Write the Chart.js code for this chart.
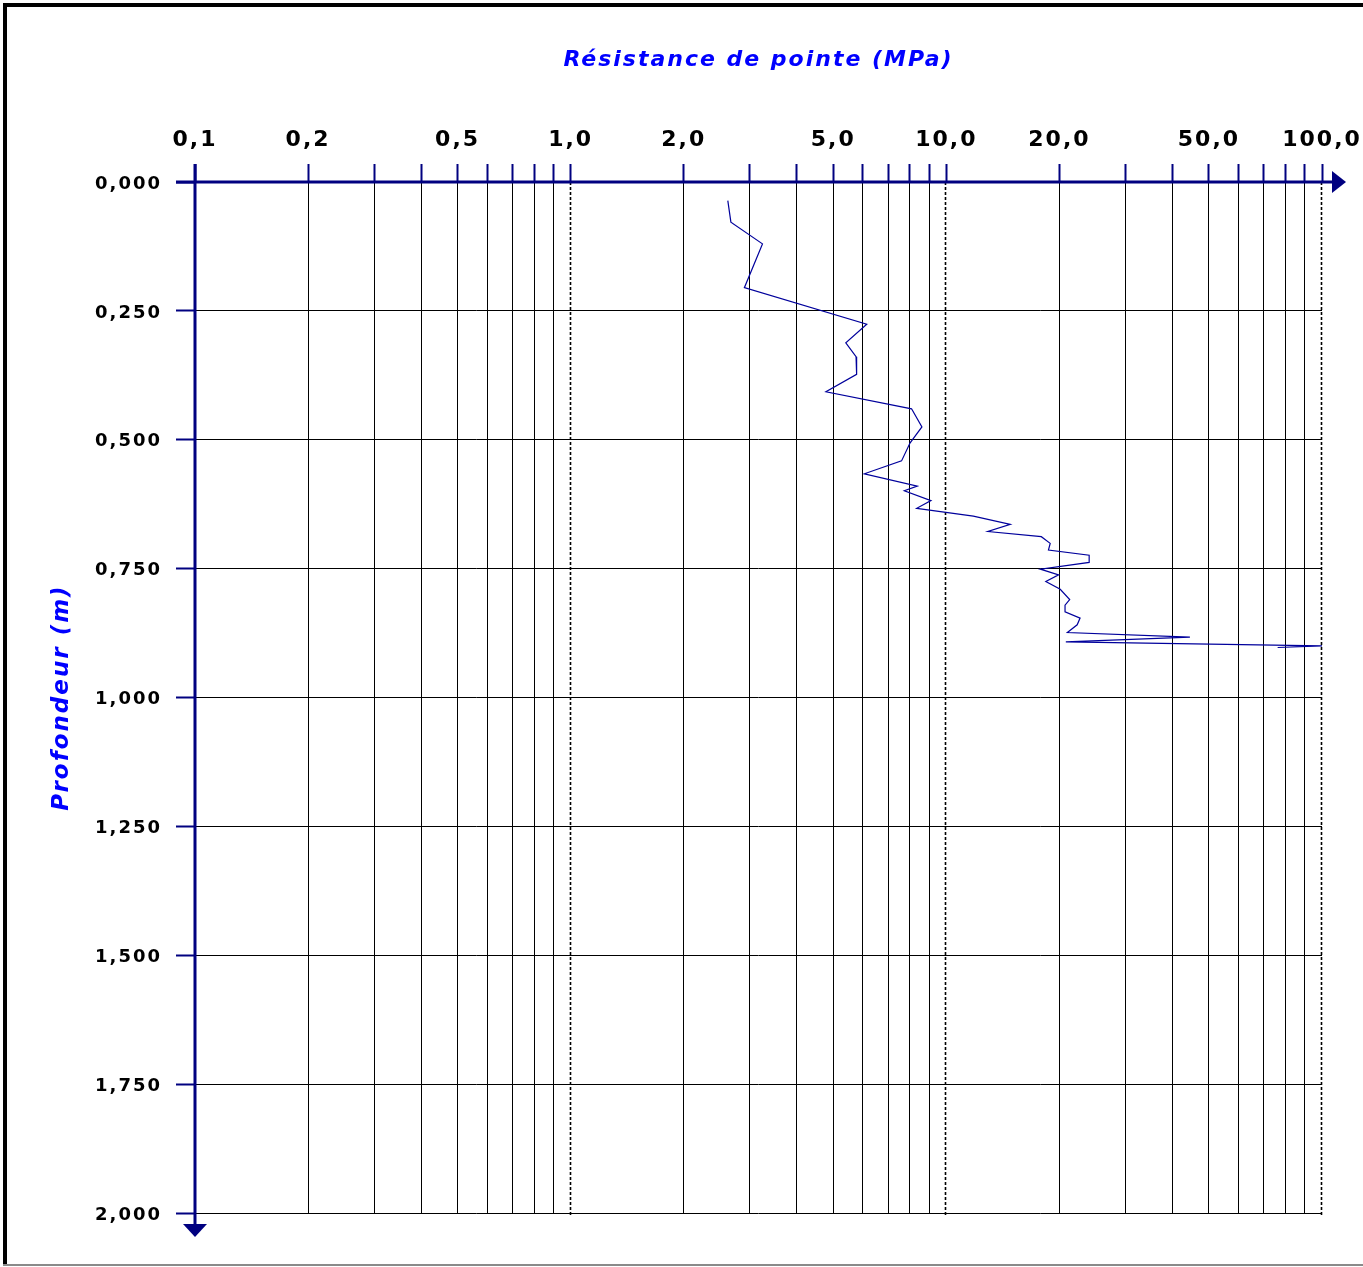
<!DOCTYPE html>
<html>
<head>
<meta charset="utf-8">
<script src="https://cdn.jsdelivr.net/npm/chart.js@4/dist/chart.umd.min.js"></script>
<style>
  html, body { margin: 0; padding: 0; background: #ffffff; }
  #wrap { width: 1363px; height: 1267px; position: relative; }
</style>
</head>
<body>
<div id="wrap"><canvas id="penetro" width="1363" height="1267"></canvas></div>
<script>
// Penetrometer sounding: depth (m) and cone tip resistance (MPa)
const depthM = [0.036, 0.078, 0.120, 0.205, 0.276, 0.312, 0.339, 0.373, 0.407, 0.440,
                0.475, 0.506, 0.541, 0.566, 0.590, 0.599, 0.618, 0.633, 0.648, 0.664,
                0.678, 0.688, 0.701, 0.714, 0.724, 0.738, 0.751, 0.762, 0.775, 0.790,
                0.810, 0.821, 0.834, 0.846, 0.859, 0.874, 0.883, 0.892, 0.900, 0.903];
const tipResistanceMPa = [2.62, 2.67, 3.24, 2.90, 6.14, 5.40, 5.75, 5.77, 4.78, 8.08,
                          8.61, 8.01, 7.60, 6.05, 8.37, 7.73, 9.10, 8.34, 11.8, 14.8,
                          12.9, 17.9, 18.9, 18.7, 24.0, 24.0, 17.8, 19.9, 18.4, 20.1,
                          21.3, 20.7, 20.7, 22.7, 22.3, 21.0, 44.5, 20.8, 100, 76.2];

// Log axis: a tick at every 1..9 x 10^n, labels only on the 1-2-5 values
const xTickValues = [0.1, 0.2, 0.3, 0.4, 0.5, 0.6, 0.7, 0.8, 0.9,
                     1, 2, 3, 4, 5, 6, 7, 8, 9,
                     10, 20, 30, 40, 50, 60, 70, 80, 90, 100];
const xLabelledValues = [0.1, 0.2, 0.5, 1, 2, 5, 10, 20, 50, 100];
const xDecadeValues = [1, 10, 100];
const xRange = [0.1, 100];
const yRange = [0, 2];
const yStep = 0.25;

const NAVY = '#000080';
const SPACING = '2px';
const comma = (v, d) => v.toFixed(d).replace('.', ',');

const points = depthM.map((d, i) => ({ x: tipResistanceMPa[i], y: d }));

const penetroDecor = {
  id: 'penetroDecor',
  beforeUpdate(chart) { chart.ctx.letterSpacing = SPACING; },
  beforeDraw(chart) {
    const ctx = chart.ctx;
    ctx.letterSpacing = SPACING;
    ctx.save();
    ctx.letterSpacing = '0px';
    // page frame
    ctx.strokeStyle = '#000';
    ctx.lineWidth = 4;
    ctx.beginPath();
    ctx.moveTo(5, 1265); ctx.lineTo(5, 5); ctx.lineTo(1363, 5);
    ctx.stroke();
    ctx.strokeStyle = '#8a8a8a';
    ctx.lineWidth = 2;
    ctx.beginPath();
    ctx.moveTo(3, 1265); ctx.lineTo(1363, 1265);
    ctx.stroke();
    ctx.restore();
  },
  beforeDatasetsDraw(chart) {
    // dashed lines on the decades
    const { ctx, chartArea, scales } = chart;
    ctx.save();
    ctx.strokeStyle = '#000';
    ctx.lineWidth = 1.6;
    ctx.setLineDash([3, 2]);
    xDecadeValues.forEach(v => {
      const px = Math.round(scales.x.getPixelForValue(v)) - 0.5;
      ctx.beginPath();
      ctx.moveTo(px, chartArea.top);
      ctx.lineTo(px, chartArea.bottom + 3);
      ctx.stroke();
    });
    ctx.restore();
  },
  afterDraw(chart) {
    // axes with arrow heads
    const { ctx, chartArea, scales } = chart;
    const x0 = scales.x.getPixelForValue(xRange[0]);
    const y0 = scales.y.getPixelForValue(yRange[0]);
    ctx.save();
    ctx.strokeStyle = NAVY;
    ctx.fillStyle = NAVY;
    ctx.lineWidth = 3;
    ctx.beginPath();
    ctx.moveTo(x0 - 19, y0); ctx.lineTo(chartArea.right + 10, y0);
    ctx.moveTo(x0, y0 - 18); ctx.lineTo(x0, chartArea.bottom + 11);
    ctx.stroke();
    ctx.beginPath();
    ctx.moveTo(chartArea.right + 10, y0 - 11);
    ctx.lineTo(chartArea.right + 24, y0);
    ctx.lineTo(chartArea.right + 10, y0 + 11);
    ctx.closePath();
    ctx.fill();
    ctx.beginPath();
    ctx.moveTo(x0 - 12, chartArea.bottom + 11);
    ctx.lineTo(x0 + 12, chartArea.bottom + 11);
    ctx.lineTo(x0, chartArea.bottom + 24);
    ctx.closePath();
    ctx.fill();
    ctx.restore();
  }
};

new Chart(document.getElementById('penetro'), {
  type: 'scatter',
  data: {
    datasets: [{
      data: points,
      showLine: true,
      borderColor: '#00009c',
      borderWidth: 1.2,
      pointRadius: 0,
      tension: 0,
      fill: false
    }]
  },
  options: {
    responsive: false,
    animation: false,
    events: [],
    layout: { padding: { left: 0, top: 0, right: 41, bottom: 54 } },
    plugins: { legend: { display: false }, tooltip: { enabled: false } },
    scales: {
      x: {
        type: 'logarithmic',
        position: 'top',
        min: xRange[0],
        max: xRange[1],
        afterBuildTicks(scale) { scale.ticks = xTickValues.map(v => ({ value: v })); },
        afterFit(scale) {
          scale.height = 182;
          scale.paddingLeft = 0;
          scale.paddingRight = 0;
        },
        border: { display: false },
        grid: {
          color: c => (c.tick && (xDecadeValues.includes(c.tick.value) || c.tick.value === xRange[0])) ? 'rgba(0,0,0,0)' : '#000',
          lineWidth: 1,
          drawTicks: true,
          tickLength: 18,
          tickColor: NAVY,
          tickWidth: 2
        },
        ticks: {
          autoSkip: false,
          maxRotation: 0,
          padding: 11,
          color: '#000',
          font: { family: 'DejaVu Sans', size: 22, weight: 'bold' },
          callback: v => xLabelledValues.includes(v) ? comma(v, 1) : ''
        },
        title: {
          display: true,
          text: 'Résistance de pointe (MPa)',
          color: '#0000ff',
          font: { family: 'DejaVu Sans', size: 22, weight: 'bold', style: 'italic' },
          padding: { top: 47, bottom: 0 }
        }
      },
      y: {
        type: 'linear',
        position: 'left',
        reverse: true,
        min: yRange[0],
        max: yRange[1],
        afterFit(scale) {
          scale.width = 195;
          scale.paddingTop = 0;
          scale.paddingBottom = 0;
        },
        border: { display: false },
        grid: {
          color: c => (c.tick && c.tick.value === yRange[0]) ? 'rgba(0,0,0,0)' : '#000',
          lineWidth: 1,
          drawTicks: true,
          tickLength: 19,
          tickColor: NAVY,
          tickWidth: 2
        },
        ticks: {
          stepSize: yStep,
          padding: 14,
          labelOffset: 2,
          color: '#000',
          font: { family: 'DejaVu Sans', size: 18, weight: 'bold' },
          callback: v => comma(v, 3)
        },
        title: {
          display: true,
          text: 'Profondeur (m)',
          color: '#0000ff',
          font: { family: 'DejaVu Sans', size: 23, weight: 'bold', style: 'italic' },
          padding: { top: 48, bottom: 0 }
        }
      }
    }
  },
  plugins: [penetroDecor]
});
</script>
</body>
</html>
